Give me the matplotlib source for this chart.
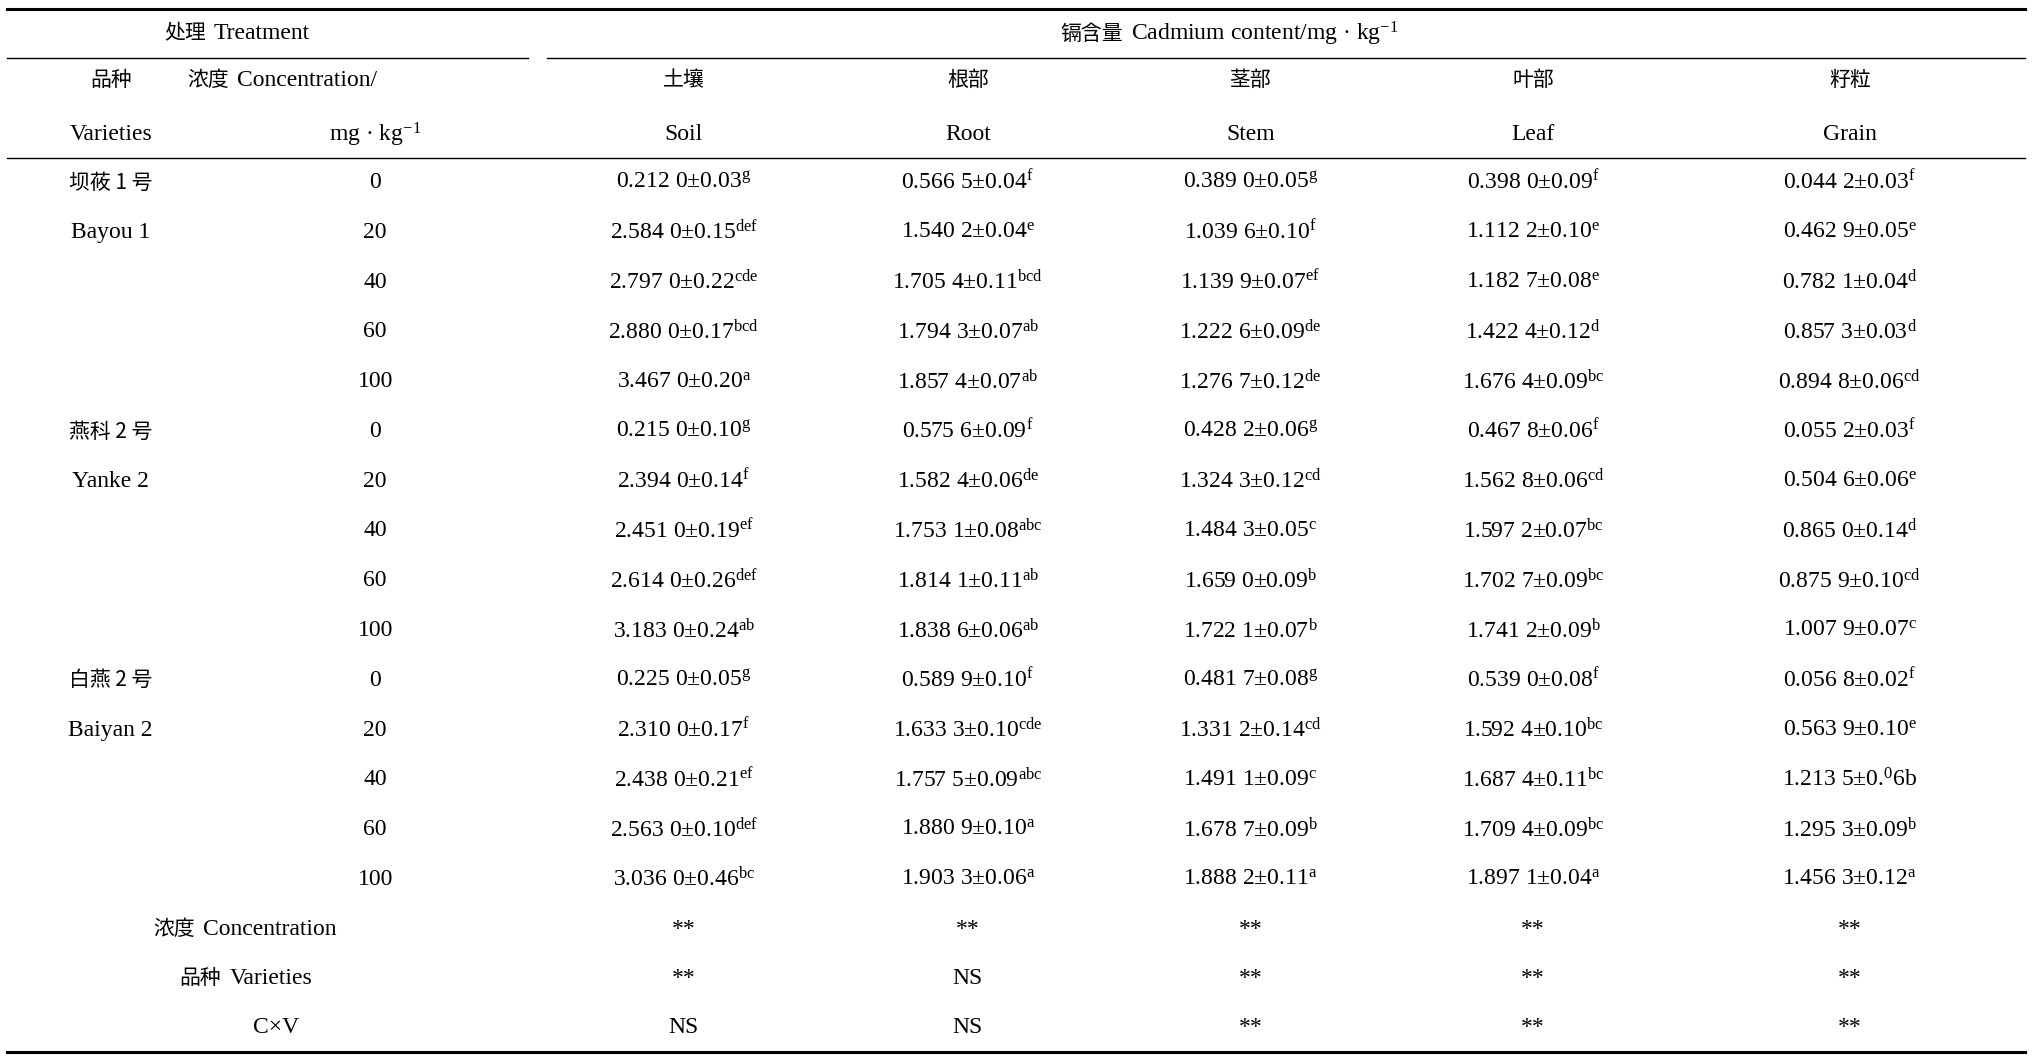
import matplotlib
matplotlib.use("Agg")
import matplotlib.pyplot as plt
from matplotlib import font_manager

plt.rcParams["font.family"] = "Liberation Serif"
plt.rcParams["mathtext.fontset"] = "custom"
plt.rcParams["mathtext.rm"] = "Liberation Serif"
plt.rcParams["mathtext.it"] = "Liberation Serif"

cjk_names = [f.name for f in font_manager.fontManager.ttflist if "CJK" in f.name]
cjk = "Noto Sans CJK SC" if "Noto Sans CJK SC" in cjk_names else (cjk_names[0] if cjk_names else "DejaVu Sans")

varieties_cn = ["坝莜 1 号", "燕科 2 号", "白燕 2 号"]
varieties_en = ["Bayou 1", "Yanke 2", "Baiyan 2"]
concentrations = ["0", "20", "40", "60", "100"]
parts = [("土壤", "Soil"), ("根部", "Root"), ("茎部", "Stem"), ("叶部", "Leaf"), ("籽粒", "Grain")]

soil = ["0.212 0±0.03$^{g}$", "2.584 0±0.15$^{def}$", "2.797 0±0.22$^{cde}$", "2.880 0±0.17$^{bcd}$", "3.467 0±0.20$^{a}$",
        "0.215 0±0.10$^{g}$", "2.394 0±0.14$^{f}$", "2.451 0±0.19$^{ef}$", "2.614 0±0.26$^{def}$", "3.183 0±0.24$^{ab}$",
        "0.225 0±0.05$^{g}$", "2.310 0±0.17$^{f}$", "2.438 0±0.21$^{ef}$", "2.563 0±0.10$^{def}$", "3.036 0±0.46$^{bc}$"]
root = ["0.566 5±0.04$^{f}$", "1.540 2±0.04$^{e}$", "1.705 4±0.11$^{bcd}$", "1.794 3±0.07$^{ab}$", "1.857 4±0.07$^{ab}$",
        "0.575 6±0.09$^{f}$", "1.582 4±0.06$^{de}$", "1.753 1±0.08$^{abc}$", "1.814 1±0.11$^{ab}$", "1.838 6±0.06$^{ab}$",
        "0.589 9±0.10$^{f}$", "1.633 3±0.10$^{cde}$", "1.757 5±0.09$^{abc}$", "1.880 9±0.10$^{a}$", "1.903 3±0.06$^{a}$"]
stem = ["0.389 0±0.05$^{g}$", "1.039 6±0.10$^{f}$", "1.139 9±0.07$^{ef}$", "1.222 6±0.09$^{de}$", "1.276 7±0.12$^{de}$",
        "0.428 2±0.06$^{g}$", "1.324 3±0.12$^{cd}$", "1.484 3±0.05$^{c}$", "1.659 0±0.09$^{b}$", "1.722 1±0.07$^{b}$",
        "0.481 7±0.08$^{g}$", "1.331 2±0.14$^{cd}$", "1.491 1±0.09$^{c}$", "1.678 7±0.09$^{b}$", "1.888 2±0.11$^{a}$"]
leaf = ["0.398 0±0.09$^{f}$", "1.112 2±0.10$^{e}$", "1.182 7±0.08$^{e}$", "1.422 4±0.12$^{d}$", "1.676 4±0.09$^{bc}$",
        "0.467 8±0.06$^{f}$", "1.562 8±0.06$^{cd}$", "1.597 2±0.07$^{bc}$", "1.702 7±0.09$^{bc}$", "1.741 2±0.09$^{b}$",
        "0.539 0±0.08$^{f}$", "1.592 4±0.10$^{bc}$", "1.687 4±0.11$^{bc}$", "1.709 4±0.09$^{bc}$", "1.897 1±0.04$^{a}$"]
grain = ["0.044 2±0.03$^{f}$", "0.462 9±0.05$^{e}$", "0.782 1±0.04$^{d}$", "0.857 3±0.03$^{d}$", "0.894 8±0.06$^{cd}$",
         "0.055 2±0.03$^{f}$", "0.504 6±0.06$^{e}$", "0.865 0±0.14$^{d}$", "0.875 9±0.10$^{cd}$", "1.007 9±0.07$^{c}$",
         "0.056 8±0.02$^{f}$", "0.563 9±0.10$^{e}$", "1.213 5±0.$^{0}$6b", "1.295 3±0.09$^{b}$", "1.456 3±0.12$^{a}$"]

stat_cn = ["浓度", "品种", ""]
stat_en = ["Concentration", "Varieties", "C×V"]
stat_soil = ["**", "**", "NS"]
stat_root = ["**", "NS", "NS"]
stat_stem = ["**", "**", "**"]
stat_leaf = ["**", "**", "**"]
stat_grain = ["**", "**", "**"]

fig = plt.figure(figsize=(20.32, 10.56), dpi=100)
ax = fig.add_axes([0, 0, 1, 1])
ax.set_xlim(0, 1560)
ax.set_ylim(815, 0)
ax.axis("off")

fs = 17
fs_cn = 15
col_x = [525, 743, 960, 1177, 1420]


def mixed(split, y, cn, en):
    # Chinese part right of split, Latin part left-aligned after it
    ax.text(split, y, cn, ha="right", va="center", fontsize=fs_cn, fontfamily=cjk)
    ax.text(split + 6, y, en, ha="left", va="center", fontsize=fs)


# rules
ax.plot([5, 1555], [7, 7], color="black", lw=2.2)
ax.plot([5, 405], [45, 45], color="black", lw=1)
ax.plot([420, 1555], [45, 45], color="black", lw=1)
ax.plot([5, 1555], [122, 122], color="black", lw=1)
ax.plot([5, 1555], [812, 812], color="black", lw=2.2)

# header
mixed(158, 26, "处理", "Treatment")
mixed(862, 26, "镉含量", "Cadmium content/mg · kg$^{-1}$")
ax.text(85, 62, "品种", ha="center", va="center", fontsize=fs_cn, fontfamily=cjk)
ax.text(85, 104, "Varieties", ha="center", va="center", fontsize=fs)
mixed(176, 62, "浓度", "Concentration/")
ax.text(288, 104, "mg · kg$^{-1}$", ha="center", va="center", fontsize=fs)
for x, (cn, en) in zip(col_x, parts):
    ax.text(x, 62, cn, ha="center", va="center", fontsize=fs_cn, fontfamily=cjk)
    ax.text(x, 104, en, ha="center", va="center", fontsize=fs)

# body
row0, step = 141, 38.4
cols = [soil, root, stem, leaf, grain]
for i in range(15):
    y = row0 + i * step
    if i % 5 == 0:
        v = i // 5
        ax.text(85, y, varieties_cn[v], ha="center", va="center", fontsize=fs_cn, fontfamily=cjk)
        ax.text(85, y + step, varieties_en[v], ha="center", va="center", fontsize=fs)
    ax.text(288, y, concentrations[i % 5], ha="center", va="center", fontsize=fs)
    for x, col in zip(col_x, cols):
        ax.text(x, y, col[i], ha="center", va="center", fontsize=fs)

stats = [stat_soil, stat_root, stat_stem, stat_leaf, stat_grain]
splits = [150, 170, None]
for j in range(3):
    y = 717 + j * 38
    if stat_cn[j]:
        mixed(splits[j], y, stat_cn[j], stat_en[j])
    else:
        ax.text(212, y, stat_en[j], ha="center", va="center", fontsize=fs)
    for x, col in zip(col_x, stats):
        ax.text(x, y, col[j], ha="center", va="center", fontsize=fs)

fig.savefig("out.png", dpi=100)
